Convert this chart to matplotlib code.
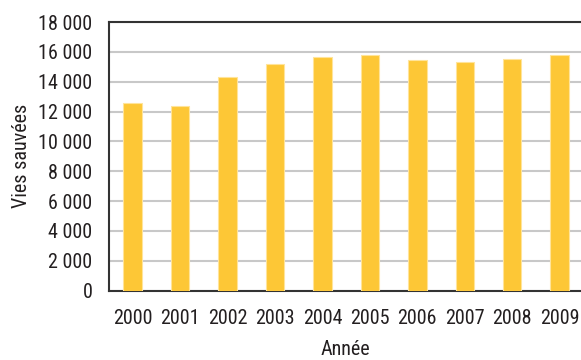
import matplotlib
matplotlib.use("Agg")
import matplotlib.pyplot as plt

# data
years = ["2000", "2001", "2002", "2003", "2004", "2005", "2006", "2007", "2008", "2009"]
lives_saved = [12550, 12370, 14330, 15180, 15630, 15770, 15450, 15300, 15520, 15770]
y_ticks = [0, 2000, 4000, 6000, 8000, 10000, 12000, 14000, 16000, 18000]

plt.rcParams["font.family"] = ["Roboto Condensed", "DejaVu Sans"]

fig = plt.figure(figsize=(5.81, 3.60), dpi=100)
ax = fig.add_axes([109 / 581, 1 - 290.7 / 360, (581 - 109) / 581, (290.7 - 22) / 360])

x = range(len(years))
ax.bar(x, lives_saved, width=0.39, color="#FDC736", edgecolor="#FFE49A",
       linewidth=0.8, zorder=3)

ax.set_ylim(0, 18000)
ax.set_xlim(-0.5, 9.45)
ax.set_yticks(y_ticks)
ax.set_yticklabels([f"{v:,}".replace(",", " ") for v in y_ticks])
ax.set_xticks(list(x))
ax.set_xticklabels(years)
ax.tick_params(axis="both", length=0, labelsize=14.5, colors="#231F20")
ax.tick_params(axis="y", pad=12)
ax.tick_params(axis="x", pad=13)

ax.grid(axis="y", color="#C8C8C8", linewidth=1.5, zorder=0)
for side in ["left", "bottom", "top"]:
    ax.spines[side].set_color("#333333")
    ax.spines[side].set_linewidth(1.5)
ax.spines["right"].set_visible(False)

ax.set_ylabel("Vies sauvées", fontsize=14.5, color="#231F20", labelpad=5)
ax.set_xlabel("Année", fontsize=14.5, color="#231F20", labelpad=8.5)

fig.savefig("out.png", dpi=100)
